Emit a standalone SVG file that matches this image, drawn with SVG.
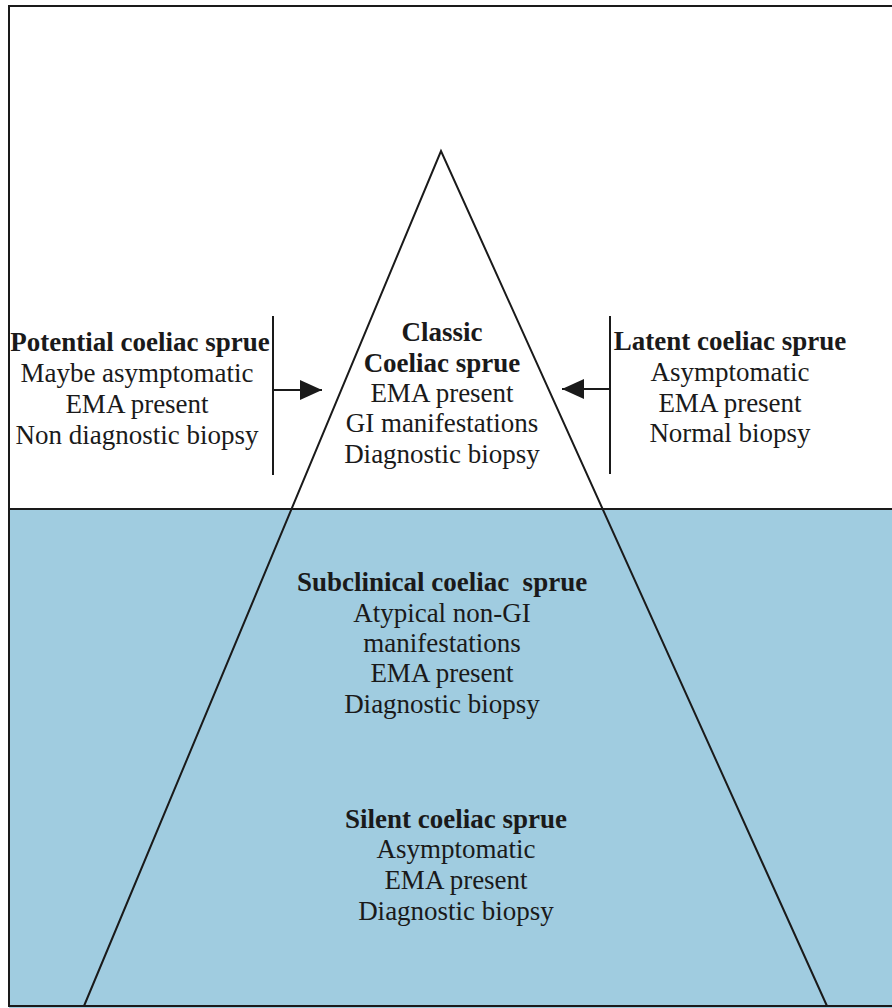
<svg xmlns="http://www.w3.org/2000/svg" width="892" height="1008" viewBox="0 0 892 1008">
<style>
text{font-family:"Liberation Serif","Times New Roman",serif;font-size:27px;fill:#1a1a1a;text-anchor:middle}
.b{font-weight:bold}
.ln{stroke:#1a1a1a;stroke-width:2;fill:none}
</style>
<defs>
<marker id="ah" markerWidth="22" markerHeight="20" refX="22" refY="10" orient="auto" markerUnits="userSpaceOnUse" viewBox="0 0 22 20">
<path d="M0,0 L22,10 L0,20 z" fill="#1a1a1a"/>
</marker>
</defs>
<rect x="0" y="0" width="892" height="1008" fill="#ffffff"/>
<rect x="9" y="509" width="883" height="499" fill="#a0cce0"/>
<g id="frame">
<path class="ln" d="M892,6 L9,6 L9,1006 L892,1006"/>
<line class="ln" x1="9" y1="509" x2="892" y2="509"/>
</g>
<g id="iceberg">
<path class="ln" d="M84,1006 L441,151 L827,1006"/>
</g>
<g id="connectors">
<line class="ln" x1="273" y1="316" x2="273" y2="475"/>
<line class="ln" x1="610" y1="316" x2="610" y2="474"/>
<line class="ln" x1="273" y1="390" x2="322" y2="390" marker-end="url(#ah)"/>
<line class="ln" x1="610" y1="389" x2="562" y2="389" marker-end="url(#ah)"/>
</g>
<g id="potential">
<text class="b" x="140" y="351">Potential coeliac sprue</text>
<text x="137" y="382">Maybe asymptomatic</text>
<text x="137" y="413">EMA present</text>
<text x="137" y="444">Non diagnostic biopsy</text>
</g>
<g id="latent">
<text class="b" x="730" y="350">Latent coeliac sprue</text>
<text x="730" y="381">Asymptomatic</text>
<text x="730" y="412">EMA present</text>
<text x="730" y="442">Normal biopsy</text>
</g>
<g id="classic">
<text class="b" x="442" y="341">Classic</text>
<text class="b" x="442" y="372">Coeliac sprue</text>
<text x="442" y="402">EMA present</text>
<text x="442" y="432">GI manifestations</text>
<text x="442" y="463">Diagnostic biopsy</text>
</g>
<g id="subclinical">
<text class="b" x="442" y="591" xml:space="preserve">Subclinical coeliac  sprue</text>
<text x="442" y="622">Atypical non-GI</text>
<text x="442" y="652">manifestations</text>
<text x="442" y="682">EMA present</text>
<text x="442" y="713">Diagnostic biopsy</text>
</g>
<g id="silent">
<text class="b" x="456" y="828">Silent coeliac sprue</text>
<text x="456" y="858">Asymptomatic</text>
<text x="456" y="889">EMA present</text>
<text x="456" y="920">Diagnostic biopsy</text>
</g>
</svg>
